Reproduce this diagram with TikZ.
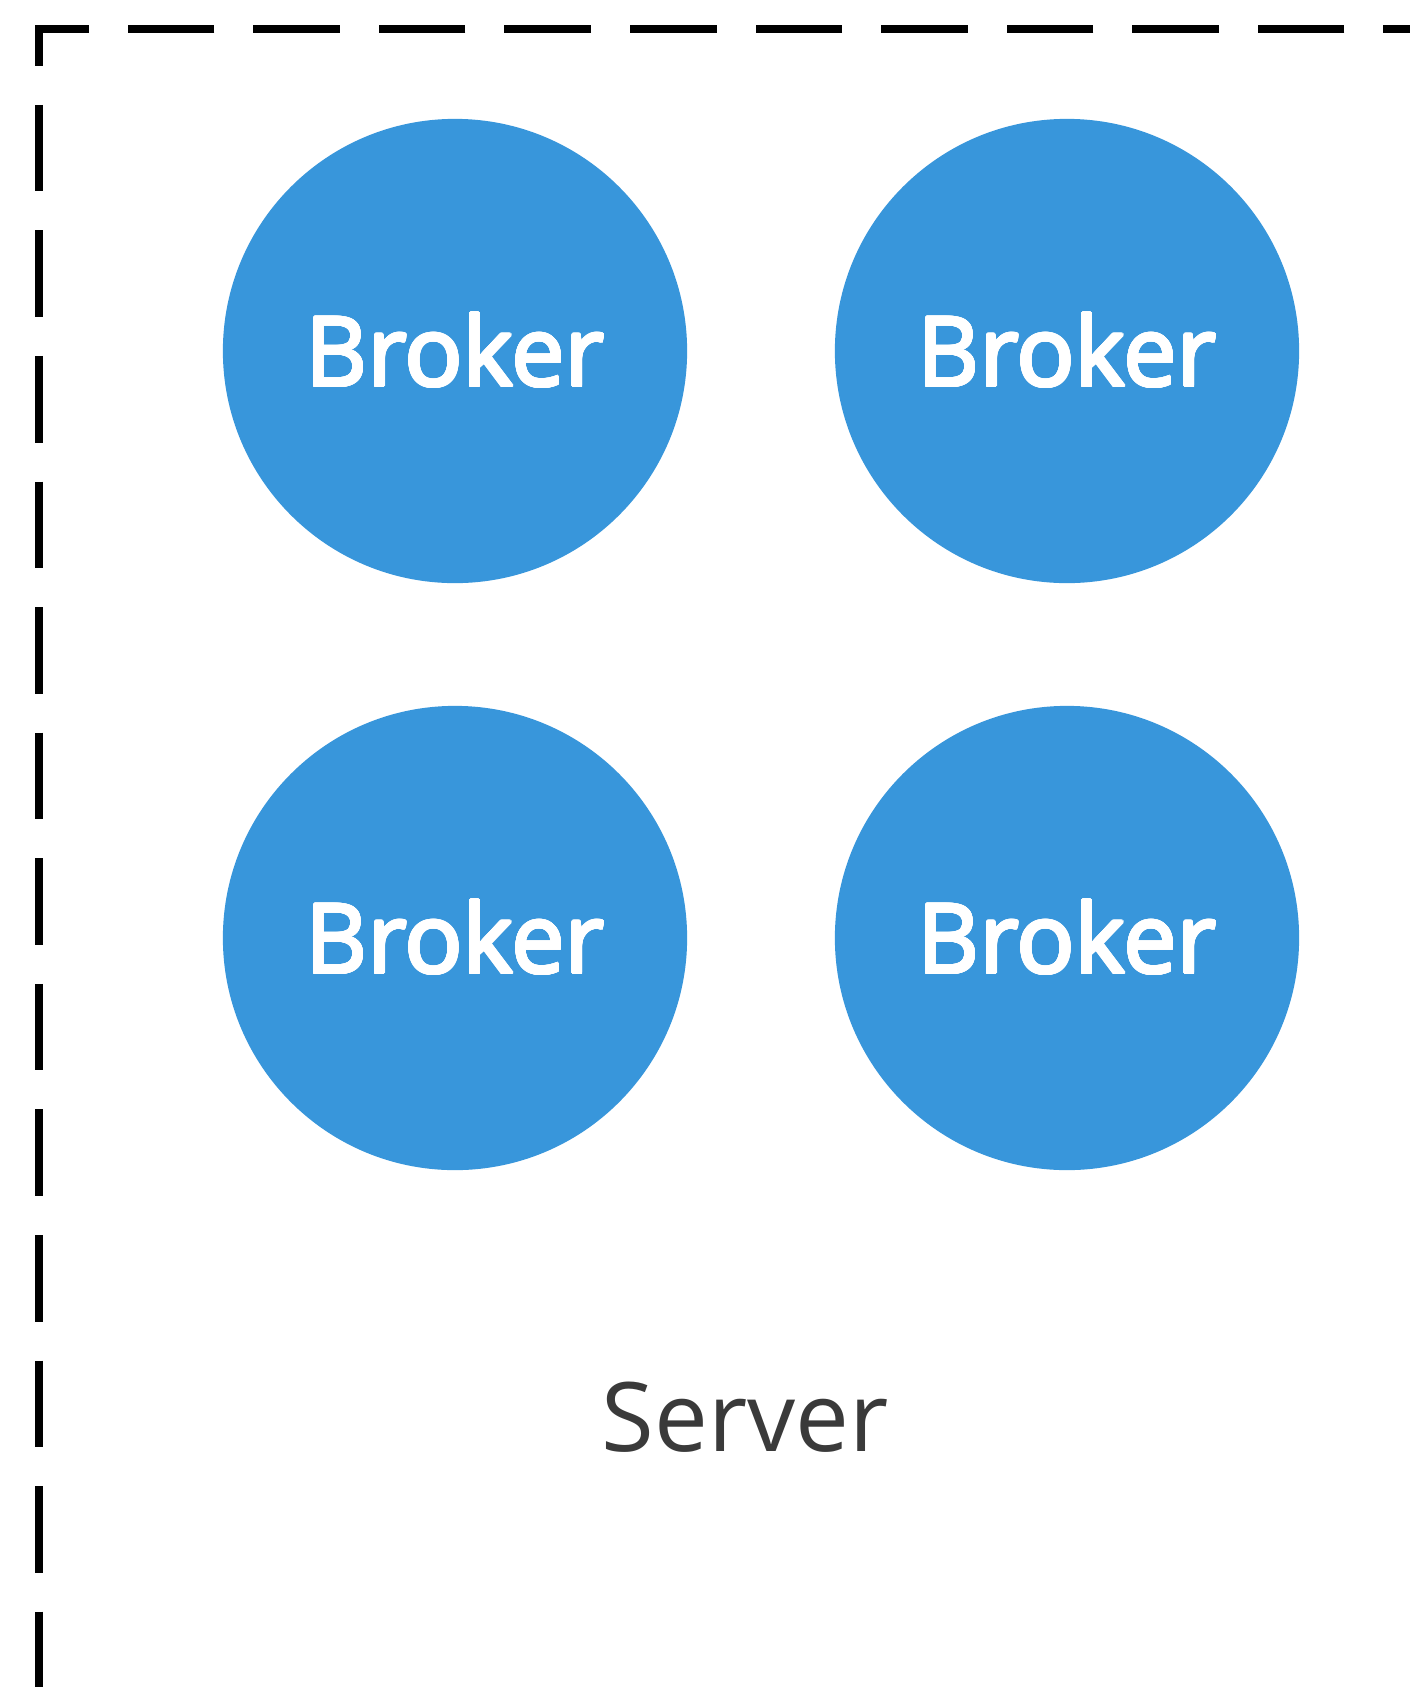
\documentclass[tikz,border=0pt]{standalone}
\usepackage{fontspec}
\setmainfont{Open Sans}
\usepackage[copies]{contour}
\contourlength{0.4pt}
\contournumber{24}
\usepackage{xcolor}
\definecolor{brokerblue}{RGB}{56,150,219}
\definecolor{servergray}{RGB}{58,58,58}
\newcommand{\brokerlabel}{\contour{white}{Broker}}

\begin{document}
\begin{tikzpicture}[x=0.01cm,y=-0.01cm,
  broker/.style={circle, fill=brokerblue, minimum size=4.64cm, inner sep=0pt,
    text=white, font=\fontsize{27.3}{30}\selectfont},
  serverbox/.style={line width=0.08cm, dash pattern=on 0.865cm off 0.39cm, dash phase=0.6cm}]
\useasboundingbox (0,0) rectangle (1410,1687);

% Draw the dashed server frame
\draw[serverbox] (1410,29) -- (39,29) -- (39,1687);

% Draw the four brokers
\node[broker] (b1) at (455,351) {\brokerlabel};
\node[broker] (b2) at (1067,351) {\brokerlabel};
\node[broker] (b3) at (455,938) {\brokerlabel};
\node[broker] (b4) at (1067,938) {\brokerlabel};

% Server label
\node[text=servergray, font=\fontsize{27.3}{29}\selectfont] (server) at (745,1417) {Server};
\end{tikzpicture}
\end{document}
